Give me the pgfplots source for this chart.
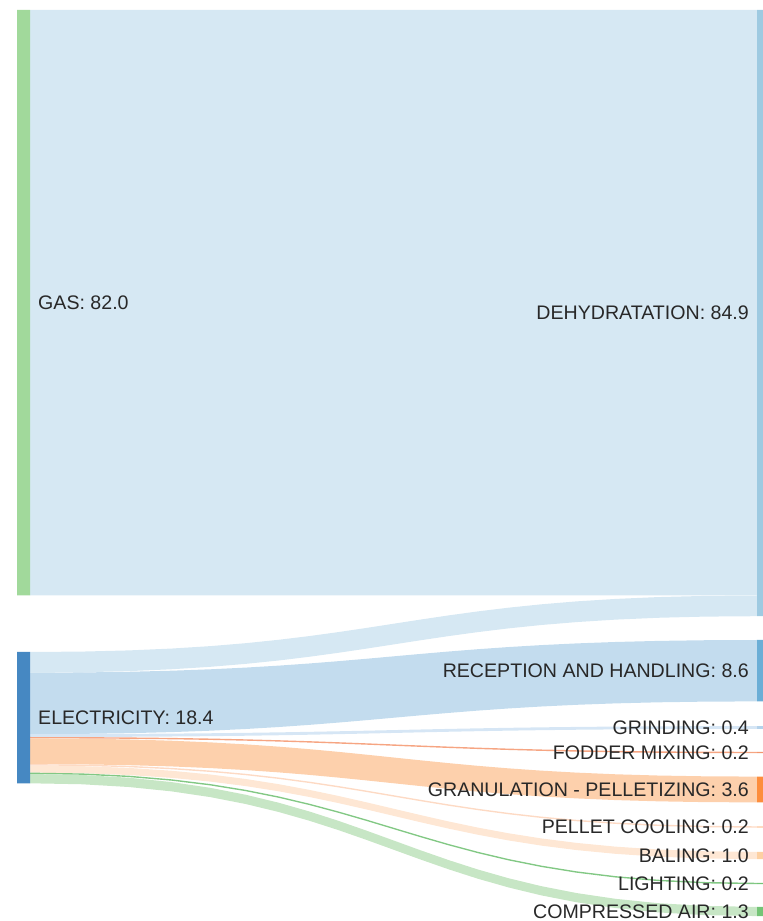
\documentclass[border=0pt]{standalone}
\usepackage{fontspec}
\setmainfont{Liberation Sans}
\usepackage{pgfplots}
\usepackage{pgfplotstable}
\pgfplotsset{compat=1.18}
\usepgfplotslibrary{fillbetween}

\definecolor{gasnode}{RGB}{161,217,155}
\definecolor{elecnode}{RGB}{70,136,194}
\definecolor{dehydnode}{RGB}{158,202,225}
\definecolor{dehydflow}{RGB}{214,232,243}
\definecolor{recflow}{RGB}{195,220,238}
\definecolor{recnode}{RGB}{107,174,214}
\definecolor{grindflow}{RGB}{214,230,245}
\definecolor{grindnode}{RGB}{180,210,235}
\definecolor{foddflow}{RGB}{246,165,130}
\definecolor{foddnode}{RGB}{243,150,110}
\definecolor{granflow}{RGB}{253,208,172}
\definecolor{grannode}{RGB}{253,141,60}
\definecolor{pellflow}{RGB}{253,218,196}
\definecolor{pellnode}{RGB}{253,200,160}
\definecolor{baleflow}{RGB}{254,231,212}
\definecolor{balenode}{RGB}{253,208,162}
\definecolor{lightflow}{RGB}{130,200,132}
\definecolor{lightnode}{RGB}{116,196,118}
\definecolor{compflow}{RGB}{199,230,197}
\definecolor{compnode}{RGB}{116,196,118}
\definecolor{txt}{RGB}{40,40,40}

% normalised link shape (fx = fraction of the gap, g = fraction of the vertical shift)
\pgfplotstableread{
fx g
0 0
0.071375 0.00725
0.136 0.028
0.194625 0.06075
0.248 0.104
0.296875 0.15625
0.342 0.216
0.384125 0.28175
0.424 0.352
0.462375 0.42525
0.5 0.5
0.537625 0.57475
0.576 0.648
0.615875 0.71825
0.658 0.784
0.703125 0.84375
0.752 0.896
0.805375 0.93925
0.864 0.972
0.928625 0.99275
1 1
}\shape

% #1 top-left #2 bottom-left #3 top-right #4 bottom-right #5 colour #6 name
\newcommand{\flow}[6]{%
  \addplot[draw=none, forget plot, name path=#6t] table[x expr={30+727*\thisrow{fx}}, y expr={#1+(#3-#1)*\thisrow{g}}] {\shape};
  \addplot[draw=none, forget plot, name path=#6b] table[x expr={30+727*\thisrow{fx}}, y expr={#2+(#4-#2)*\thisrow{g}}] {\shape};
  \addplot[fill=#5, draw=none, forget plot] fill between[of=#6t and #6b];
}
% #1 x-left #2 x-right #3 top #4 bottom #5 colour
\newcommand{\nodebar}[5]{%
  \addplot[fill=#5, draw=none, forget plot] coordinates {(#1,#3) (#2,#3) (#2,#4) (#1,#4) (#1,#3)};
}

\begin{document}
\begin{tikzpicture}
\begin{axis}[
  scale only axis, width=763pt, height=921pt,
  xmin=0, xmax=763, ymin=0, ymax=921, y dir=reverse,
  hide axis,
]
\coordinate (bl) at (axis cs:0,921);
\coordinate (tr) at (axis cs:763,0);

% links (pixel positions derived from the values, 7.14 px per unit)
\flow{10}{595.5}{10}{595.5}{dehydflow}{a}
\flow{652}{672.7}{595.5}{616.2}{dehydflow}{b}
\flow{672.7}{734.1}{640}{701.4}{recflow}{c}
\flow{734.1}{737.0}{726.1}{728.9}{grindflow}{d}
\flow{737.0}{738.4}{751.8}{753.2}{foddflow}{e}
\flow{738.4}{764.1}{776.6}{802.4}{granflow}{f}
\flow{764.1}{765.5}{826.3}{827.7}{pellflow}{g}
\flow{765.5}{772.6}{851.9}{859.1}{baleflow}{h}
\flow{772.6}{774.0}{882.8}{884.2}{lightflow}{i}
\flow{774.0}{783.3}{906.9}{916.1}{compflow}{j}

% nodes
\nodebar{17}{30}{10}{595.5}{gasnode}
\nodebar{17}{30}{652}{783.3}{elecnode}
\nodebar{757}{770}{10}{616.2}{dehydnode}
\nodebar{757}{770}{640}{701.4}{recnode}
\nodebar{757}{770}{726.1}{728.9}{grindnode}
\nodebar{757}{770}{751.8}{753.2}{foddnode}
\nodebar{757}{770}{776.6}{802.4}{grannode}
\nodebar{757}{770}{826.3}{827.7}{pellnode}
\nodebar{757}{770}{851.9}{859.1}{balenode}
\nodebar{757}{770}{882.8}{884.2}{lightnode}
\nodebar{757}{770}{906.9}{916.1}{compnode}

% labels
\begin{scope}[every node/.style={font=\fontsize{19.6}{23}\selectfont, text=txt, inner sep=0pt}]
\node[anchor=west] at (axis cs:38,302.75) {GAS: 82.0};
\node[anchor=west] at (axis cs:38,717.7) {ELECTRICITY: 18.4};
\node[anchor=east] at (axis cs:749,313) {DEHYDRATATION: 84.9};
\node[anchor=east] at (axis cs:749,670.7) {RECEPTION AND HANDLING: 8.6};
\node[anchor=east] at (axis cs:749,727.5) {GRINDING: 0.4};
\node[anchor=east] at (axis cs:749,752.5) {FODDER MIXING: 0.2};
\node[anchor=east] at (axis cs:749,789.5) {GRANULATION - PELLETIZING: 3.6};
\node[anchor=east] at (axis cs:749,827) {PELLET COOLING: 0.2};
\node[anchor=east] at (axis cs:749,855.5) {BALING: 1.0};
\node[anchor=east] at (axis cs:749,883.5) {LIGHTING: 0.2};
\node[anchor=east] at (axis cs:749,911.5) {COMPRESSED AIR: 1.3};
\end{scope}
\end{axis}
\pgfresetboundingbox
\path[use as bounding box] (bl) rectangle (tr);
\end{tikzpicture}
\end{document}
